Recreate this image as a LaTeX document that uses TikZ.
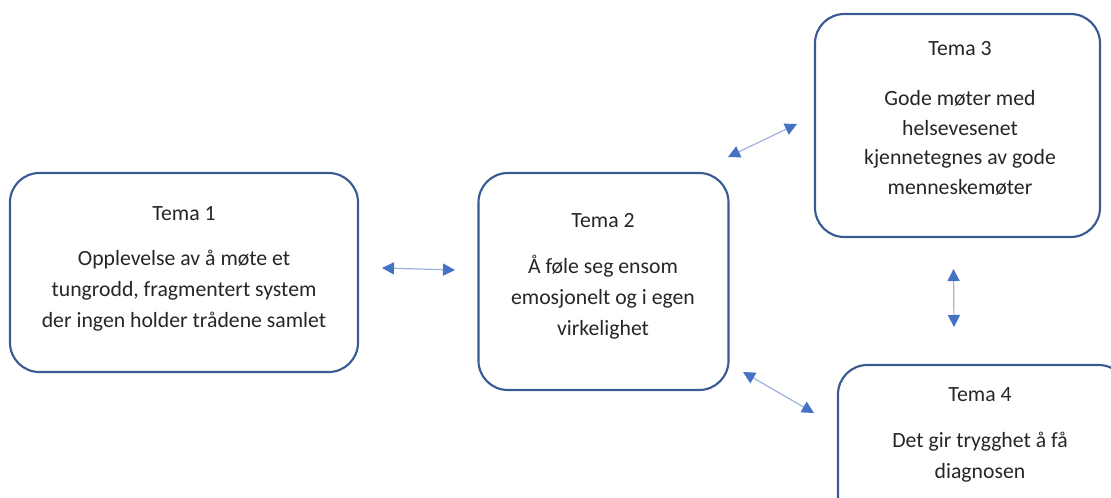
\documentclass[tikz,border=0pt]{standalone}
\usepackage{fontspec}
\setmainfont{Carlito}
\usetikzlibrary{arrows.meta}
\definecolor{boxblue}{HTML}{3A5A94}
\definecolor{tipblue}{HTML}{4472C4}
\definecolor{lineblue}{HTML}{9DB3DC}
\tikzset{
  themebox/.style={draw=boxblue, line width=1.6pt, rounded corners=22pt, fill=white, inner sep=0pt},
  themetext/.style={align=center, font=\fontsize{16.3}{23.3}\selectfont, text=black!85, inner sep=0pt},
  link/.style={draw=lineblue, line width=0.9pt,
    {Triangle[length=9pt,width=9pt,color=tipblue]}-{Triangle[length=9pt,width=9pt,color=tipblue]}}
}
\begin{document}
\begin{tikzpicture}[x=0.75pt,y=-0.75pt]
\clip (0,0) rectangle (1111,497);
\fill[white] (0,0) rectangle (1111,497);
% boxes
\node[themebox, minimum width=348*0.75pt, minimum height=199*0.75pt] (t1) at (184,272.5) {};
\node[themebox, minimum width=250*0.75pt, minimum height=217*0.75pt] (t2) at (603.5,281.5) {};
\node[themebox, minimum width=285*0.75pt, minimum height=223*0.75pt] (t3) at (957.5,125.5) {};
\node[themebox, minimum width=290*0.75pt, minimum height=180*0.75pt] (t4) at (983,455) {};
% texts
\node[themetext] (x1) at (184,268.5) {Tema 1\\[10.5pt]Opplevelse av å møte et\\tungrodd, fragmentert system\\der ingen holder trådene samlet};
\node[themetext] (x2) at (603,276.5) {Tema 2\\[11pt]Å føle seg ensom\\emosjonelt og i egen\\virkelighet};
\node[themetext, font=\fontsize{16.3}{22.2}\selectfont] (x3) at (960,118.5) {Tema 3\\[15pt]Gode møter med\\helsevesenet\\kjennetegnes av gode\\menneskemøter};
\node[themetext] (x4) at (980,435) {Tema 4\\[11pt]Det gir trygghet å få\\diagnosen};
% connector end points
\coordinate (a1) at (382,268);
\coordinate (a2) at (455,270);
\coordinate (b1) at (728,157);
\coordinate (b2) at (797,124);
\coordinate (c1) at (953.5,269);
\coordinate (c2) at (954,327);
\coordinate (d1) at (743,372);
\coordinate (d2) at (814,413);
\draw[link] (a1) -- (a2);
\draw[link] (b1) -- (b2);
\draw[link] (c1) -- (c2);
\draw[link] (d1) -- (d2);
\end{tikzpicture}
\end{document}
